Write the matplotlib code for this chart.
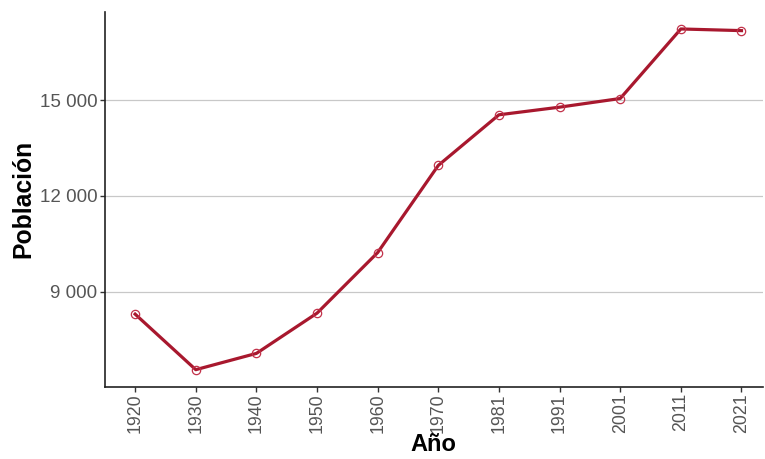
import matplotlib
matplotlib.use("Agg")
import matplotlib.pyplot as plt

plt.rcParams['font.family'] = ['Liberation Sans', 'DejaVu Sans']

anios = ['1920', '1930', '1940', '1950', '1960', '1970', '1981', '1991', '2001', '2011', '2021']
poblacion = [8302, 6563, 7073, 8333, 10229, 12958, 14542, 14781, 15052, 17229, 17177]
yticks = [9000, 12000, 15000]
ytick_labels = ['9 000', '12 000', '15 000']

fig = plt.figure(figsize=(7.65, 4.59), dpi=100)
ax = fig.add_axes([0.137, 0.1575, 0.86, 0.8165])

x = list(range(len(anios)))
ax.plot(x, poblacion, color='#A8182E', lw=2.3, zorder=3)
ax.plot(x, poblacion, ls='none', marker='o', ms=6, mfc='none', mec='#C2324A', mew=0.9, zorder=4)

ax.set_xlim(-0.5, 10.35)
ax.set_ylim(6030, 17762)
ax.set_xticks(x)
ax.set_xticklabels(anios, rotation=90)
ax.set_yticks(yticks)
ax.set_yticklabels(ytick_labels)

ax.grid(axis='y', color='#C8C8C8', lw=0.9)
ax.set_axisbelow(True)
for s in ['top', 'right']:
    ax.spines[s].set_visible(False)
for s in ['left', 'bottom']:
    ax.spines[s].set_color('#222222')
    ax.spines[s].set_linewidth(1.2)
ax.tick_params(axis='both', colors='#333333', length=3.5, width=1, pad=1.8,
               labelsize=13.5, labelcolor='#555555')
ax.tick_params(axis='x', labelsize=12.8, pad=1.2)

ax.set_xlabel('Año', fontsize=17, fontweight='bold', labelpad=0)
ax.set_ylabel('Población', fontsize=17.8, fontweight='bold', labelpad=3)

fig.savefig('out.png', dpi=100)
